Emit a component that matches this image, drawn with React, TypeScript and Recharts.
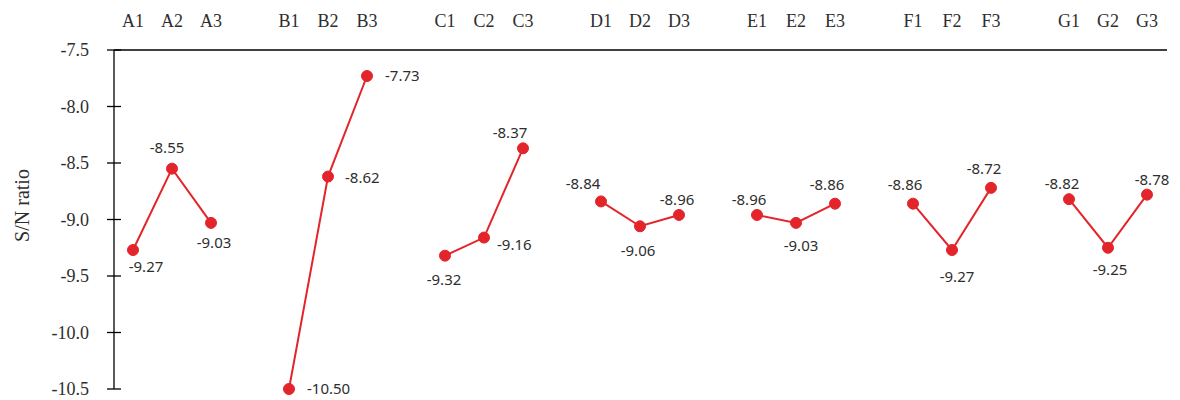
import { LineChart, Line, XAxis, YAxis } from 'recharts'

// S/N ratio per factor level (levels 1..3)
const factors = ['A', 'B', 'C', 'D', 'E', 'F', 'G']
const snA = [-9.27, -8.55, -9.03]
const snB = [-10.5, -8.62, -7.73]
const snC = [-9.32, -9.16, -8.37]
const snD = [-8.84, -9.06, -8.96]
const snE = [-8.96, -9.03, -8.86]
const snF = [-8.86, -9.27, -8.72]
const snG = [-8.82, -9.25, -8.78]
const yTicks = [-7.5, -8.0, -8.5, -9.0, -9.5, -10.0, -10.5]

const seriesByFactor = [snA, snB, snC, snD, snE, snF, snG]

// one empty slot between factor groups so each group gets its own line
const rows: { key: string; sn: number | null }[] = []
factors.forEach((f, i) => {
  if (i > 0) rows.push({ key: `gap${i}`, sn: null })
  seriesByFactor[i].forEach((v, j) => rows.push({ key: `${f}${j + 1}`, sn: v }))
})

// where each value label sits relative to its dot: [dx, dy, anchor]
const labelPlacement: Record<string, [number, number, 'start' | 'middle']> = {
  A1: [13, 17, 'middle'], A2: [-5, -21, 'middle'], A3: [3, 20, 'middle'],
  B1: [18, 0, 'start'], B2: [17, 1, 'start'], B3: [18, 0, 'start'],
  C1: [-1, 24, 'middle'], C2: [13, 7, 'start'], C3: [-13, -16, 'middle'],
  D1: [-18, -18, 'middle'], D2: [-2, 24, 'middle'], D3: [-2, -15, 'middle'],
  E1: [-8, -15, 'middle'], E2: [5, 23, 'middle'], E3: [-8, -19, 'middle'],
  F1: [-8, -19, 'middle'], F2: [5, 27, 'middle'], F3: [-7, -19, 'middle'],
  G1: [-7, -15, 'middle'], G2: [2, 22, 'middle'], G3: [5, -15, 'middle'],
}

const RED = '#e3252b'
const INK = '#2e2e2e'
const SERIF = '"Liberation Serif", "Times New Roman", serif'
const SANS = '"Noto Sans", "Open Sans", sans-serif'

const Y_TICK_SIZE = 7
const Y_TICK_MARGIN = 18

function YTick(props: any) {
  const { x, y, payload } = props
  const axisX = x + Y_TICK_MARGIN + Y_TICK_SIZE
  return (
    <g>
      <line x1={axisX - 7} x2={axisX + 7} y1={y} y2={y} stroke="#000" strokeWidth={1.3} />
      <text x={x} y={y} dy="0.35em" textAnchor="end" fill={INK} fontFamily={SERIF} fontSize={18}>
        {Number(payload.value).toFixed(1)}
      </text>
    </g>
  )
}

function ValueLabel(props: any) {
  const { x, y, value, index } = props
  if (value == null) return null
  const key = rows[index]?.key
  const place = labelPlacement[key]
  if (!place) return null
  const [dx, dy, anchor] = place
  return (
    <text x={x + dx} y={y + dy} dy="0.35em" textAnchor={anchor} fill={INK} fontFamily={SANS} fontSize={15}>
      {Number(value).toFixed(2)}
    </text>
  )
}

export default function App() {
  return (
    <LineChart width={1172} height={392} data={rows} margin={{ top: 12, right: 13, bottom: 11, left: 46 }}>
      <XAxis
        dataKey="key"
        orientation="top"
        height={30}
        padding={{ left: 19, right: 20 }}
        axisLine={{ stroke: '#000', strokeWidth: 1.3 }}
        tickLine={false}
        tickSize={0}
        tickMargin={23}
        interval={0}
        tickFormatter={(v: string) => (v.startsWith('gap') ? '' : v)}
        tick={{ fill: INK, fontFamily: SERIF, fontSize: 18 }}
      />
      <YAxis
        type="number"
        domain={[-10.5, -7.5]}
        ticks={yTicks}
        width={60}
        axisLine={{ stroke: '#000', strokeWidth: 1.3 }}
        tickLine={false}
        tickSize={Y_TICK_SIZE}
        tickMargin={Y_TICK_MARGIN}
        tick={<YTick />}
        label={{
          value: 'S/N ratio',
          content: (p: any) => {
            const vb = p.viewBox
            const cx = vb.x - 32
            const cy = vb.y + vb.height / 2 - 14
            return (
              <text
                x={cx}
                y={cy}
                transform={`rotate(-90 ${cx} ${cy})`}
                textAnchor="middle"
                dy="0.35em"
                fill={INK}
                fontFamily={SERIF}
                fontSize={20}
              >
                S/N ratio
              </text>
            )
          },
        }}
      />
      <Line
        type="linear"
        dataKey="sn"
        stroke={RED}
        strokeWidth={2}
        connectNulls={false}
        dot={{ r: 5.5, fill: RED, stroke: RED, strokeWidth: 1 }}
        activeDot={false}
        label={<ValueLabel />}
        isAnimationActive={false}
      />
    </LineChart>
  )
}
